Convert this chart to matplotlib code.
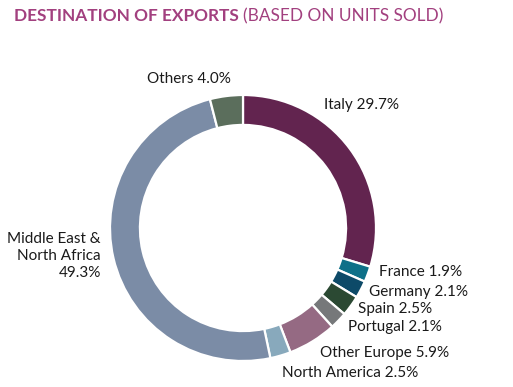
import matplotlib
matplotlib.use("Agg")
import matplotlib.pyplot as plt

# data
regions = ['Italy', 'France', 'Germany', 'Spain', 'Portugal', 'Other Europe',
           'North America', 'Middle East &\nNorth Africa\n', 'Others']
shares = [29.7, 1.9, 2.1, 2.5, 2.1, 5.9, 2.5, 49.3, 4.0]
colors = ['#62244f', '#0e7088', '#0d4a68', '#2b4933', '#76787a', '#956a83',
          '#88a9bc', '#7b8ca6', '#5b6e5c']

W, H = 513, 387
fig = plt.figure(figsize=(W / 100, H / 100), dpi=100)
plt.rcParams['font.family'] = ['Lato', 'DejaVu Sans']

# donut centre / radius in pixels
cx, cy, R = 243, 228, 133
ax = fig.add_axes([(cx - R) / W, (H - cy - R) / H, 2 * R / W, 2 * R / H])
ax.pie(shares, colors=colors, startangle=90, counterclock=False, radius=1,
       wedgeprops=dict(width=0.225, edgecolor='white', linewidth=1.6))
ax.set_xlim(-1, 1)
ax.set_ylim(-1, 1)
ax.axis('off')

# label anchors in pixels (x, y, ha)
label_pos = [(324, 105, 'left'), (379, 272, 'left'), (369, 292, 'left'),
             (358, 309, 'left'), (348, 327, 'left'), (320, 353, 'left'),
             (282, 373, 'left'), (101, 256, 'right'), (189, 79, 'center')]

for name, val, (x, y, ha) in zip(regions, shares, label_pos):
    if name.endswith('\n'):
        txt = name + '%.1f%%' % val
    else:
        txt = '%s %.1f%%' % (name, val)
    fig.text(x / W, 1 - y / H, txt, ha=ha, va='center', fontsize=11,
             color='#1a1a1a', linespacing=1.3,
             multialignment='right' if ha == 'right' else 'left')

# title: bold part + regular part
t1 = fig.text(14 / W, 1 - 16 / H, 'DESTINATION OF EXPORTS', fontsize=12.4,
              fontweight='bold', color='#a2407f', va='center')
fig.canvas.draw()
bb = t1.get_window_extent()
fig.text((bb.x1 + 4) / W, 1 - 16 / H, '(BASED ON UNITS SOLD)', fontsize=12.4,
         color='#a2407f', va='center')

fig.savefig('out.png', dpi=100)
